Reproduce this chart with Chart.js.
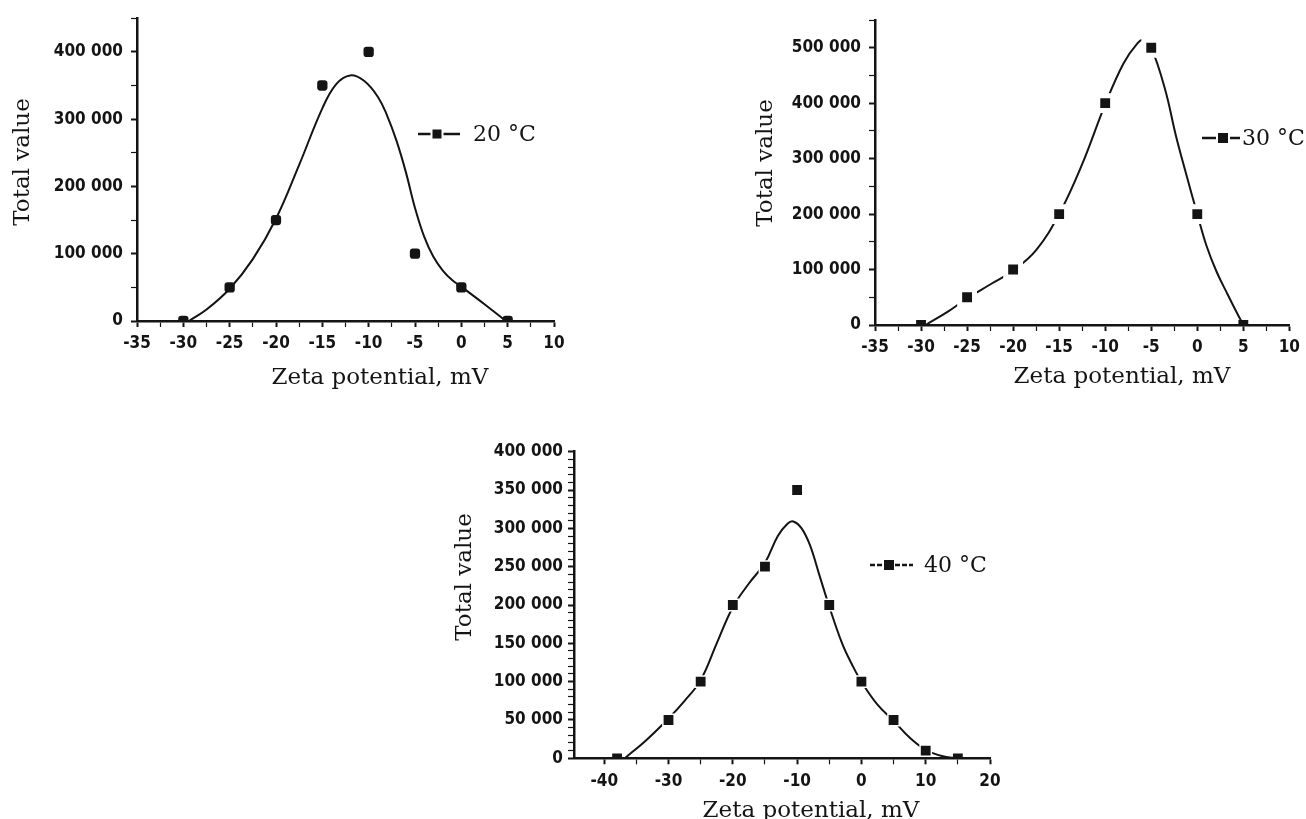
<!DOCTYPE html>
<html>
<head>
<meta charset="utf-8">
<script src="https://cdn.jsdelivr.net/npm/chart.js@4.4.1/dist/chart.umd.min.js"></script>
<style>
    body { margin: 0; background: #fff; }
    canvas { position: absolute; }
</style>
</head>
<body>
<canvas id="chart20" width="600" height="392" style="left:0;top:0"></canvas>
<canvas id="chart30" width="566" height="392" style="left:740px;top:0"></canvas>
<canvas id="chart40" width="570" height="429" style="left:440px;top:390px"></canvas>
<script>
// 20 °C - measured points and fitted curve
const zeta20 = [-30, -25, -20, -15, -10, -5, 0, 5];
const total20 = [0, 50000, 150000, 350000, 400000, 100000, 50000, 0];
const fitZeta20 = [-29.4, -27.5, -25, -22.5, -20, -17.5, -15, -13.5, -12, -10.5, -9, -8, -7, -6, -5, -4, -3, -2, -1, 0, 2.5, 4.8];
const fitTotal20 = [0, 17000, 48000, 92000, 152000, 232000, 316000, 352000, 365000, 357000, 333000, 305000, 268000, 222000, 168000, 125000, 95000, 75000, 61000, 51000, 25000, 0];

// 30 °C
const zeta30 = [-30, -25, -20, -15, -10, -5, 0, 5];
const total30 = [0, 50000, 100000, 200000, 400000, 500000, 200000, 0];
const fitZeta30 = [-29.5, -27, -25, -22.5, -20, -17.5, -15, -12.5, -10, -8, -6.5, -5.8, -5, -3.5, -2.3, -1.2, 0, 1, 2.1, 3.3, 4.3, 5];
const fitTotal30 = [0, 25000, 48000, 73000, 98000, 135000, 200000, 290000, 398000, 472000, 508000, 514000, 500000, 425000, 340000, 272000, 200000, 143000, 96000, 55000, 22000, 0];

// 40 °C
const zeta40 = [-38, -30, -25, -20, -15, -10, -5, 0, 5, 10, 15];
const total40 = [0, 50000, 100000, 200000, 250000, 350000, 200000, 100000, 50000, 10000, 0];
const fitZeta40 = [-36.8, -33.3, -30, -27.5, -25, -22.5, -20, -17.5, -15, -13, -11.5, -10.6, -9.3, -8, -6.5, -5, -3, -1.5, 0, 2.5, 5, 7.5, 10, 12.5, 15];
const fitTotal40 = [0, 25000, 52000, 75000, 102000, 150000, 197000, 228000, 255000, 290000, 306000, 309000, 300000, 278000, 238000, 198000, 150000, 123000, 100000, 70000, 49000, 27000, 11000, 3000, 0];

// axis tick labels
const xLabels20 = [-35, -30, -25, -20, -15, -10, -5, 0, 5, 10];
const yLabels20 = [0, 100000, 200000, 300000, 400000];
const xLabels30 = [-35, -30, -25, -20, -15, -10, -5, 0, 5, 10];
const yLabels30 = [0, 100000, 200000, 300000, 400000, 500000];
const xLabels40 = [-40, -30, -20, -10, 0, 10, 20];
const yLabels40 = [0, 50000, 100000, 150000, 200000, 250000, 300000, 350000, 400000];

const xTitle = 'Zeta potential, mV';
const yTitle = 'Total value';

const INK = '#141414';
const serif = '"DejaVu Serif", "Liberation Serif", serif';
const tickFont = {family: '"DejaVu Sans Condensed", "Liberation Sans Narrow", "Liberation Sans", sans-serif', size: 17, weight: 'bold'};

function spaced(v) {
    return String(v).replace(/\B(?=(\d{3})+(?!\d))/g, ' ');
}

function stepTicks(min, max, step) {
    let ticks = [];
    for (let v = Math.ceil(min / step) * step; v <= max + 1e-9; v += step) {
        ticks.push({value: Math.round(v * 1000) / 1000});
    }
    return ticks;
}

// axis titles + the little legend are drawn here so they can sit where the original has them
const annotate = {
    id: 'annotate',
    afterDraw(chart, args, opts) {
        const ctx = chart.ctx;
        ctx.save();
        ctx.fillStyle = INK;
        ctx.strokeStyle = INK;

        ctx.font = '23px ' + serif;
        ctx.textAlign = 'center';
        ctx.textBaseline = 'alphabetic';
        ctx.fillText(xTitle, opts.xTitleAt[0], opts.xTitleAt[1]);

        ctx.save();
        ctx.translate(opts.yTitleAt[0], opts.yTitleAt[1]);
        ctx.rotate(-Math.PI / 2);
        ctx.textBaseline = 'middle';
        ctx.fillText(yTitle, 0, 0);
        ctx.restore();

        // legend: line broken around the marker, then the label
        const lg = opts.legend;
        const half = lg.size / 2;
        ctx.lineWidth = 2.5;
        ctx.setLineDash(lg.dash);
        ctx.beginPath();
        ctx.moveTo(lg.x1, lg.y);
        ctx.lineTo(lg.mx - half - lg.gap, lg.y);
        ctx.moveTo(lg.mx + half + lg.gap, lg.y);
        ctx.lineTo(lg.x2, lg.y);
        ctx.stroke();
        ctx.setLineDash([]);
        ctx.fillRect(lg.mx - half, lg.y - half, lg.size, lg.size);
        ctx.font = '22px ' + serif;
        ctx.textAlign = 'left';
        ctx.textBaseline = 'middle';
        ctx.fillText(chart.data.datasets[0].label, lg.tx, lg.y + 1);
        ctx.restore();
    }
};

function onAxis(c) {
    return c.raw && c.raw.y === 0;
}

function buildChart(id, s) {
    return new Chart(document.getElementById(id), {
        type: 'scatter',
        data: {
            datasets: [
                {
                    label: s.label,
                    data: s.zeta.map((x, i) => ({x: x, y: s.total[i]})),
                    showLine: false,
                    pointStyle: s.marker,
                    // white rim cuts the curve round a marker, but not on the axis line
                    pointRadius: (c) => onAxis(c) ? s.markerR - s.gap / Math.SQRT2 : s.markerR,
                    pointBackgroundColor: INK,
                    pointBorderColor: '#fff',
                    pointBorderWidth: (c) => onAxis(c) ? 0 : s.gap,
                    order: 0,
                },
                {
                    label: 'fit',
                    data: s.fitZeta.map((x, i) => ({x: x, y: s.fitTotal[i]})),
                    showLine: true,
                    borderColor: INK,
                    borderWidth: 2,
                    pointRadius: 0,
                    tension: 0.4,
                    clip: 0,
                    order: 1,
                }
            ]
        },
        options: {
            responsive: false,
            animation: false,
            layout: {padding: {left: 0, top: s.padTop, right: s.padRight, bottom: 0}},
            plugins: {
                legend: {display: false},
                tooltip: {enabled: false},
                annotate: s.annotate,
            },
            scales: {
                x: {
                    type: 'linear',
                    min: s.xMin,
                    max: s.xMax,
                    afterBuildTicks: (sc) => { sc.ticks = stepTicks(s.xMin, s.xMax, s.xStep); },
                    afterFit: (sc) => { sc.height = s.xH; },
                    border: {color: INK, width: 2.5},
                    grid: {
                        drawOnChartArea: false,
                        color: INK,
                        tickLength: 6,
                        tickWidth: (c) => s.xLabels.includes(c.tick.value) ? 2 : 1.2,
                    },
                    ticks: {
                        autoSkip: false,
                        maxRotation: 0,
                        padding: s.xPad,
                        color: INK,
                        font: tickFont,
                        callback: (v) => s.xLabels.includes(v) ? String(v) : '',
                    }
                },
                y: {
                    type: 'linear',
                    min: 0,
                    max: s.yMax,
                    afterBuildTicks: (sc) => { sc.ticks = stepTicks(0, s.yMax, s.yStep); },
                    afterFit: (sc) => { sc.width = s.yW; },
                    border: {color: INK, width: 2.5},
                    grid: {
                        drawOnChartArea: false,
                        color: INK,
                        tickLength: 6,
                        tickWidth: (c) => s.yLabels.includes(c.tick.value) ? 2 : 1.2,
                    },
                    ticks: {
                        autoSkip: false,
                        padding: s.yPad,
                        color: INK,
                        font: tickFont,
                        callback: (v) => s.yLabels.includes(v) ? spaced(v) : '',
                    }
                }
            }
        },
        plugins: [annotate]
    });
}

Chart.defaults.devicePixelRatio = 1;

buildChart('chart20', {
    label: '20 °C', zeta: zeta20, total: total20, fitZeta: fitZeta20, fitTotal: fitTotal20,
    marker: 'rectRounded', markerR: 6, gap: 0,
    xMin: -35, xMax: 10, xStep: 2.5, xLabels: xLabels20,
    yMax: 450000, yStep: 50000, yLabels: yLabels20,
    padTop: 15, padRight: 46, yW: 137, xH: 71, xPad: 6, yPad: 8,
    annotate: {
        xTitleAt: [380, 384], yTitleAt: [23, 162],
        legend: {x1: 418, x2: 460, y: 134, mx: 437, size: 9, gap: 2, dash: [], tx: 473}
    }
});

buildChart('chart30', {
    label: '30 °C', zeta: zeta30, total: total30, fitZeta: fitZeta30, fitTotal: fitTotal30,
    marker: 'rect', markerR: 10.5, gap: 5,
    xMin: -35, xMax: 10, xStep: 2.5, xLabels: xLabels30,
    yMax: 550000, yStep: 50000, yLabels: yLabels30,
    padTop: 20, padRight: 15, yW: 135, xH: 67, xPad: 6, yPad: 8,
    annotate: {
        xTitleAt: [382, 383], yTitleAt: [26, 163],
        legend: {x1: 462, x2: 500, y: 138, mx: 483, size: 10, gap: 2, dash: [], tx: 502}
    }
});

buildChart('chart40', {
    label: '40 °C', zeta: zeta40, total: total40, fitZeta: fitZeta40, fitTotal: fitTotal40,
    marker: 'rect', markerR: 8, gap: 1.5,
    xMin: -44.7, xMax: 20, xStep: 5, xLabels: xLabels40,
    yMax: 400000, yStep: 10000, yLabels: yLabels40,
    padTop: 61.7, padRight: 20, yW: 134, xH: 60.7, xPad: 7, yPad: 5,
    annotate: {
        xTitleAt: [371, 427], yTitleAt: [25, 187],
        legend: {x1: 430, x2: 473, y: 175, mx: 449, size: 10, gap: 1, dash: [5, 2], tx: 484}
    }
});
</script>
</body>
</html>
